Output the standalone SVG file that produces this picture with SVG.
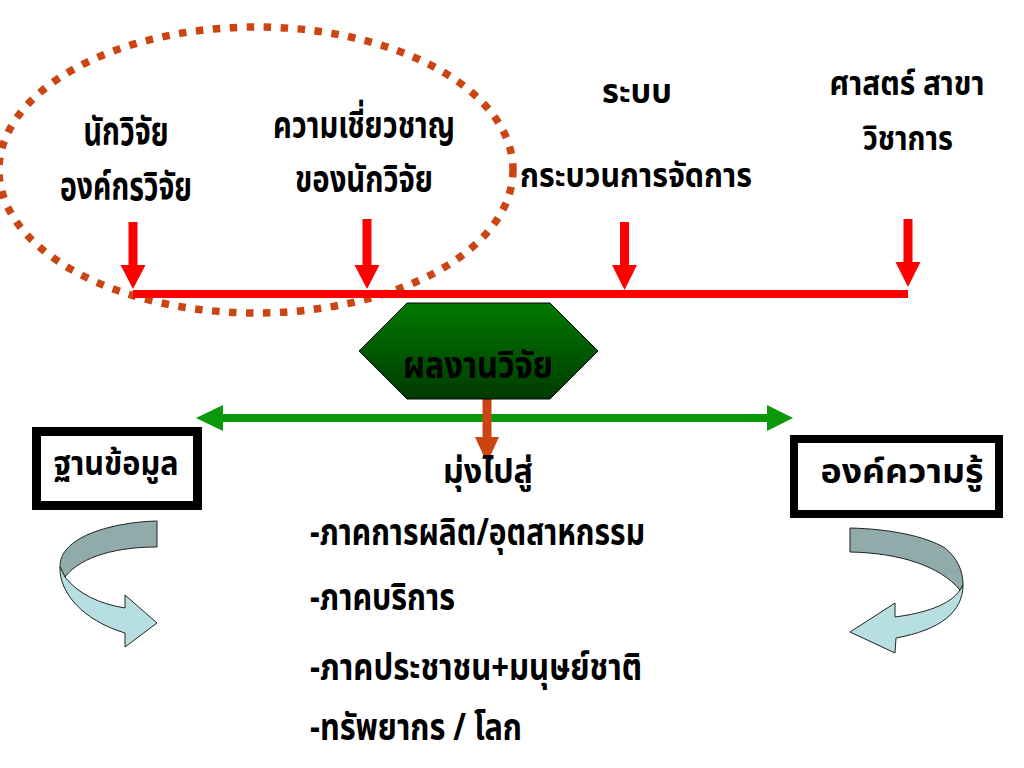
<svg xmlns="http://www.w3.org/2000/svg" width="1024" height="768" viewBox="0 0 1024 768">
<style>
.t{font-family:"Noto Sans Thai","Noto Sans","DejaVu Sans",sans-serif;font-weight:bold;fill:#000;text-anchor:middle}
.s39{font-size:39px}
.s37{font-size:37px}
.s34{font-size:34px}
.st{text-anchor:start}
.red{fill:#FF0000}
.box{fill:#fff;stroke:#000}
.dk{fill:#91ABAB;stroke:#222;stroke-width:1}
.lt{fill:#B7DEE1;stroke:#222;stroke-width:1}
</style>
<defs>
<linearGradient id="hg" x1="0" y1="0" x2="0" y2="1">
<stop offset="0" stop-color="#007A00"/>
<stop offset="1" stop-color="#003A00"/>
</linearGradient>
</defs>
<rect width="1024" height="768" fill="#fff"/>

<g id="group-ellipse">
<ellipse cx="256" cy="170" rx="257" ry="143" fill="none" stroke="#CC4411" stroke-width="7.5" stroke-dasharray="7.5 9.5"/>
</g>

<g id="node-researcher">
<text class="t s39" x="126" y="145" textLength="85" lengthAdjust="spacingAndGlyphs">นักวิจัย</text>
<text class="t s39" x="126" y="200" textLength="132" lengthAdjust="spacingAndGlyphs">องค์กรวิจัย</text>
</g>
<g id="node-expertise">
<text class="t s37" x="364" y="138" textLength="182" lengthAdjust="spacingAndGlyphs">ความเชี่ยวชาญ</text>
<text class="t s37" x="364" y="192" textLength="138" lengthAdjust="spacingAndGlyphs">ของนักวิจัย</text>
</g>
<g id="node-system">
<text class="t s34" x="637" y="103" textLength="70" lengthAdjust="spacingAndGlyphs">ระบบ</text>
<text class="t s34" x="636" y="187" textLength="232" lengthAdjust="spacingAndGlyphs">กระบวนการจัดการ</text>
</g>
<g id="node-discipline">
<text class="t s34" x="907" y="95" textLength="155" lengthAdjust="spacingAndGlyphs">ศาสตร์ สาขา</text>
<text class="t s34" x="908" y="150" textLength="90" lengthAdjust="spacingAndGlyphs">วิชาการ</text>
</g>

<g id="connectors">
<line x1="133" y1="294" x2="908" y2="294" stroke="#FF0000" stroke-width="8"/>
<polygon class="red" points="128.5,222 137.5,222 137.5,265 145.5,265 133,289 120.5,265 128.5,265"/>
<polygon class="red" points="362.5,219 371.5,219 371.5,265 379.5,265 367,289 354.5,265 362.5,265"/>
<polygon class="red" points="620,222 629,222 629,265 637,265 624.5,290 612,265 620,265"/>
<polygon class="red" points="903.5,219 912.5,219 912.5,262 920.5,262 908,287 895.5,262 903.5,262"/>
<line x1="220" y1="418" x2="770" y2="418" stroke="#0A990A" stroke-width="8"/>
<polygon fill="#0A990A" points="196,418 223,405 223,431"/>
<polygon fill="#0A990A" points="793,418 767,405 767,431"/>
<polygon fill="#CC4411" points="482.5,399 491.5,399 491.5,437 499,437 487,463 475,437 482.5,437"/>
</g>

<g id="node-result">
<polygon points="359,351 407,303 550,303 598,351 550,399 407,399" fill="url(#hg)" stroke="#000" stroke-width="1"/>
<text class="t s37" x="478" y="378" textLength="150" lengthAdjust="spacingAndGlyphs">ผลงานวิจัย</text>
</g>

<g id="node-toward">
<text class="t s34" x="488" y="483" textLength="90" lengthAdjust="spacingAndGlyphs">มุ่งไปสู่</text>
<text class="t s37 st" x="310" y="545" textLength="335" lengthAdjust="spacingAndGlyphs">-ภาคการผลิต/อุตสาหกรรม</text>
<text class="t s37 st" x="310" y="610" textLength="145" lengthAdjust="spacingAndGlyphs">-ภาคบริการ</text>
<text class="t s37 st" x="310" y="680" textLength="332" lengthAdjust="spacingAndGlyphs">-ภาคประชาชน+มนุษย์ชาติ</text>
<text class="t s37 st" x="310" y="740" textLength="212" lengthAdjust="spacingAndGlyphs">-ทรัพยากร / โลก</text>
</g>

<g id="node-database">
<rect class="box" x="36.5" y="431.5" width="161" height="74" stroke-width="9"/>
<text class="t s34" x="116" y="475" textLength="125" lengthAdjust="spacingAndGlyphs">ฐานข้อมูล</text>
</g>
<g id="node-knowledge">
<rect class="box" x="794" y="439" width="205" height="75" stroke-width="8"/>
<text class="t s34" x="902" y="483" textLength="163" lengthAdjust="spacingAndGlyphs">องค์ความรู้</text>
</g>

<g id="curved-arrow-left">
<path class="dk" d="M157,521 L157,547 C120,547 82,555 65,577 L60,567 C60,560 62,555 66,550 C80,532 120,522 157,521 Z"/>
<path class="lt" d="M60,567 C59,592 82,620 125,633 L125,647 L157,623 L125,595 L125,608 C100,604 78,594 65,577 Z"/>
</g>
<g id="curved-arrow-right">
<path class="dk" d="M850,528 L850,552 C900,553 940,566 960,590 L963,585 C963,570 957,558 945,548 C925,536 890,529 850,528 Z"/>
<path class="lt" d="M963,585 C963,612 940,630 896,638 L895,653 L850,632 L895,603 L895,617 C925,613 950,605 960,590 Z"/>
</g>
</svg>
